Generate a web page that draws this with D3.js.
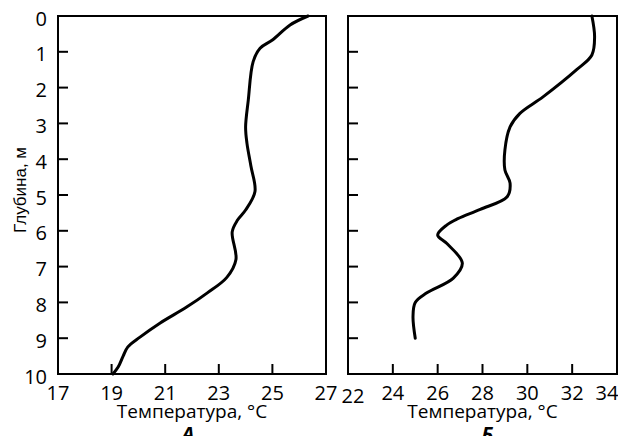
<!DOCTYPE html>
<html lang="ru">
<head>
<meta charset="UTF-8">
<title>Температура по глубине</title>
<script src="https://d3js.org/d3.v7.min.js"></script>
<style>
  body { margin: 0; background: #fff; }
  svg text { font-family: "Open Sans", sans-serif; fill: #000; }
  .tick-label { font-size: 20px; }
  .frame { fill: none; stroke: #000; stroke-width: 2; }
  .tick { stroke: #000; stroke-width: 2; }
  .profile { fill: none; stroke: #000; stroke-width: 3; stroke-linejoin: round; stroke-linecap: round; }
</style>
</head>
<body>
<svg id="chart" width="618" height="436"></svg>
<script>
// глубина, м
var depthTicks = [0, 1, 2, 3, 4, 5, 6, 7, 8, 9, 10];

// панель А
var tempTicksA = [17, 19, 21, 23, 25, 27];
var depthA = [0, 0.25, 0.67, 0.9, 1.28, 2.35, 3.1, 3.55, 4.2, 4.9, 5.42, 5.7, 6.03, 6.8, 7.3, 7.74, 8.13, 8.58, 8.97, 9.25, 9.5, 9.8, 10];
var tempA  = [26.33, 25.66, 25.0, 24.54, 24.28, 24.1, 24.0, 24.05, 24.2, 24.35, 24.0, 23.7, 23.5, 23.64, 23.3, 22.56, 21.8, 20.8, 20.06, 19.6, 19.43, 19.25, 19.05];

// панель Б
var tempTicksB = [22, 24, 26, 28, 30, 32, 34];
var depthB = [0, 0.58, 1.09, 1.5, 2.26, 2.72, 3.1, 3.74, 4.3, 4.67, 5.05, 5.4, 5.66, 5.84, 6.12, 6.35, 6.9, 7.32, 7.74, 8.0, 8.4, 9.0];
var tempB  = [32.88, 33.0, 32.88, 32.2, 30.7, 29.67, 29.23, 29.0, 29.0, 29.23, 29.1, 27.9, 26.9, 26.4, 26.0, 26.4, 27.1, 26.7, 25.5, 25.0, 24.9, 25.0];

var svg = d3.select("#chart");
var plotTop = 16, plotBottom = 374;

var y = d3.scaleLinear().domain([0, 10]).range([plotTop, plotBottom]);

function panel(x0, x1, ticks, depth, temp, letter, showYLabels, labelShift) {
    var x = d3.scaleLinear().domain([ticks[0], ticks[ticks.length - 1]]).range([x0, x1]);
    var g = svg.append("g");

    g.append("rect").attr("class", "frame")
        .attr("x", x0).attr("y", plotTop)
        .attr("width", x1 - x0).attr("height", plotBottom - plotTop);

    // тики внутрь
    g.selectAll(".ytick").data(depthTicks.slice(1, -1)).enter()
        .append("line").attr("class", "tick")
        .attr("x1", x0).attr("x2", x0 + 10)
        .attr("y1", function (d) { return y(d); })
        .attr("y2", function (d) { return y(d); });

    g.selectAll(".xtick").data(ticks.slice(1, -1)).enter()
        .append("line").attr("class", "tick")
        .attr("x1", function (d) { return x(d); })
        .attr("x2", function (d) { return x(d); })
        .attr("y1", plotBottom).attr("y2", plotBottom - 10);

    if (showYLabels) {
        g.selectAll(".ylab").data(depthTicks).enter()
            .append("text").attr("class", "tick-label")
            .attr("x", x0 - 11)
            .attr("y", function (d) { return y(d) + 9.5; })
            .attr("text-anchor", "end")
            .text(function (d) { return d; });
    }

    g.selectAll(".xlab").data(ticks).enter()
        .append("text").attr("class", "tick-label")
        .attr("x", function (d) { return x(d) + (labelShift[d] ? labelShift[d][0] : 0); })
        .attr("y", function (d) { return 400 + (labelShift[d] ? labelShift[d][1] : 0); })
        .attr("text-anchor", "middle")
        .text(function (d) { return d; });

    g.append("text")
        .attr("x", (x0 + x1) / 2).attr("y", 418)
        .attr("text-anchor", "middle")
        .style("font-size", "19px")
        .text("Температура, °C");

    g.append("text")
        .attr("x", (x0 + x1) / 2 + (letter === "Б" ? 5 : -4)).attr("y", 441)
        .attr("text-anchor", "middle")
        .style("font-size", "20px").style("font-weight", "bold").style("font-style", "italic")
        .text(letter);

    var line = d3.line()
        .x(function (d) { return x(d[1]); })
        .y(function (d) { return y(d[0]); })
        .curve(d3.curveCatmullRom.alpha(0.5));

    g.append("path").attr("class", "profile")
        .attr("d", line(d3.zip(depth, temp)));
}

panel(58, 326, tempTicksA, depthA, tempA, "А", true, {});
panel(348, 617, tempTicksB, depthB, tempB, "Б", false, {22: [5, 3], 34: [-10, 0]});

svg.append("text")
    .attr("transform", "translate(26," + 190 + ") rotate(-90)")
    .attr("text-anchor", "middle")
    .style("font-family", "'Liberation Sans', Arial, sans-serif")
    .style("font-size", "17px")
    .text("Глубина, м");
</script>
</body>
</html>
